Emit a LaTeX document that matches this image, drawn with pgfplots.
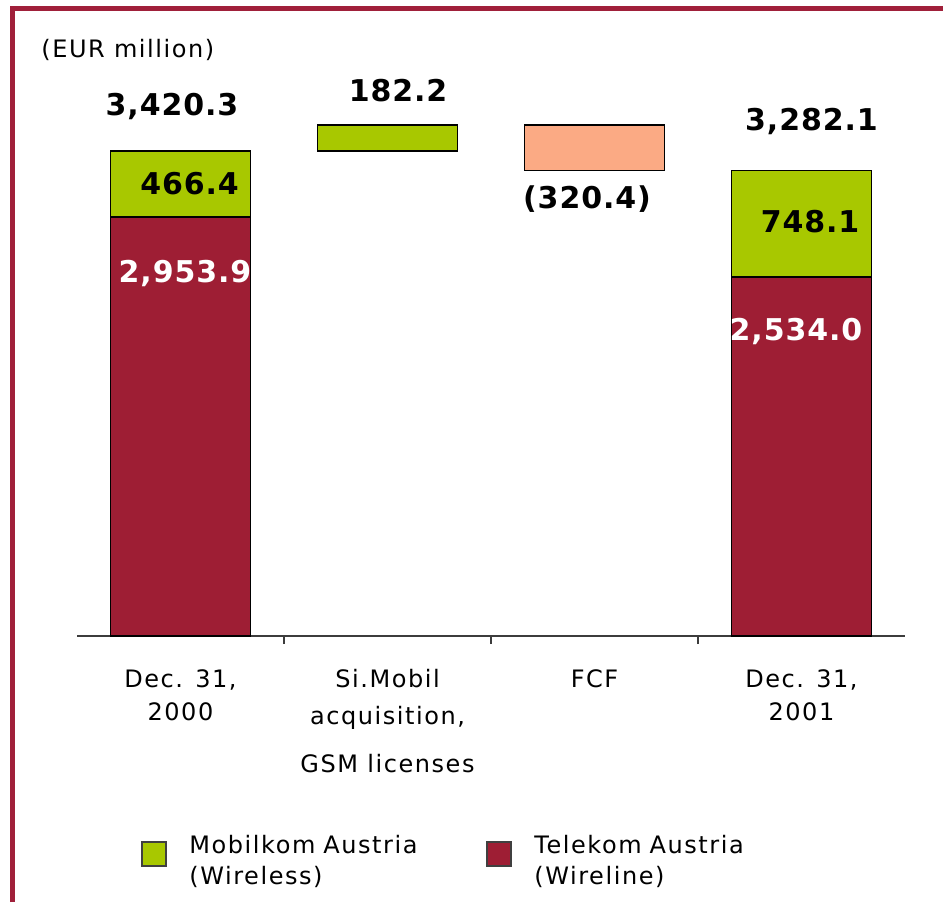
\documentclass[border=0pt]{standalone}
\usepackage{fontspec}
\setmainfont{DejaVu Sans}
\newfontfamily\labfont{DejaVu Sans}[LetterSpace=6.5]
\newfontfamily\numfont{DejaVu Sans}[LetterSpace=3]
\usepackage{pgfplots}
\pgfplotsset{compat=1.18}
\definecolor{mgreen}{RGB}{168,200,0}
\definecolor{tred}{RGB}{158,30,52}
\definecolor{salmon}{RGB}{251,170,132}
\definecolor{framec}{RGB}{160,32,58}
\definecolor{axgray}{RGB}{60,60,60}
\newcommand\lab{\fontsize{12}{16.5}\selectfont\labfont}
\newcommand\legf{\fontsize{12}{15.5}\selectfont\labfont}
\newcommand\num{\fontsize{15}{17}\selectfont\numfont\bfseries}
\begin{document}
\begin{tikzpicture}
\path[use as bounding box] (0,0) rectangle (471.5pt,451pt);
\begin{axis}[
  at={(38.5pt,133pt)}, anchor=south west,
  width=414pt, height=307.5pt, scale only axis,
  xmin=-0.5, xmax=3.5, ymin=0, ymax=4337,
  ybar stacked, bar width=70pt,
  hide y axis,
  axis x line*=bottom,
  axis line style={draw=axgray, line width=1pt},
  xtick={0,1,2,3},
  xticklabels={{Dec. 31,\\2000},{Si.Mobil\\[2pt]acquisition,\\[7.5pt]GSM licenses},{FCF},{Dec. 31,\\2001}},
  major tick length=0pt,
  minor xtick={0.5,1.5,2.5},
  minor tick length=4pt,
  tick align=outside,
  minor tick style={draw=axgray, line width=0.6pt},
  xticklabel style={font=\lab, align=center, anchor=north, inner sep=0pt, yshift=-16.5pt},
  clip=false,
  legend style={at={(0.0773,-0.3235)}, anchor=north west, draw=none, fill=none, inner sep=0pt,
    column sep=0pt, row sep=0pt, font=\legf, nodes={inner sep=0pt, text width=148.5pt, align=left}},
  legend columns=2,
  legend cell align=left,
  legend entries={{Mobilkom Austria\\(Wireless)},{Telekom Austria\\(Wireline)}},
]
\addlegendimage{legend image code/.code={\draw[fill=mgreen,draw=black!75,line width=0.6pt] (0pt,-10pt) rectangle (12pt,2pt); \path (23.5pt,0pt);}}
\addlegendimage{legend image code/.code={\draw[fill=tred,draw=black!75,line width=0.6pt] (0pt,-10pt) rectangle (12pt,2pt); \path (23.5pt,0pt);}}
\addplot[draw=none, fill=none] coordinates {(0,0) (1,3420.3) (2,3282.1) (3,0)};
\addplot[fill=tred, draw=black, line width=0.9pt] coordinates {(0,2953.9) (1,0) (2,0) (3,2534.0)};
\addplot[fill=mgreen, draw=black, line width=0.9pt] coordinates {(0,466.4) (1,182.2) (2,0) (3,748.1)};
\addplot[fill=salmon, draw=black, line width=0.9pt] coordinates {(0,0) (1,0) (2,320.4) (3,0)};
\end{axis}
\begin{scope}[x=0.5pt,y=-0.5pt,shift={(0pt,451pt)}]
\draw[framec, line width=2.5pt] (12,902) -- (12,9) -- (943,9);
\node[anchor=base west, inner sep=0pt, font=\lab] at (41,58) {(EUR million)};
\node[anchor=base, inner sep=0pt, font=\num] at (172,116) {3,420.3};
\node[anchor=base, inner sep=0pt, font=\num] at (398,102) {182.2};
\node[anchor=base, inner sep=0pt, font=\num] at (189.5,194) {466.4};
\node[anchor=base, inner sep=0pt, font=\num] at (587,208) {(320.4)};
\node[anchor=base, inner sep=0pt, font=\num] at (811.5,131) {3,282.1};
\node[anchor=base, inner sep=0pt, font=\num] at (810,233) {748.1};
\node[anchor=base, inner sep=0pt, font=\num, text=white] at (185,282) {2,953.9};
\node[anchor=base, inner sep=0pt, font=\num, text=white] at (796,340) {2,534.0};
\end{scope}
\end{tikzpicture}
\end{document}
